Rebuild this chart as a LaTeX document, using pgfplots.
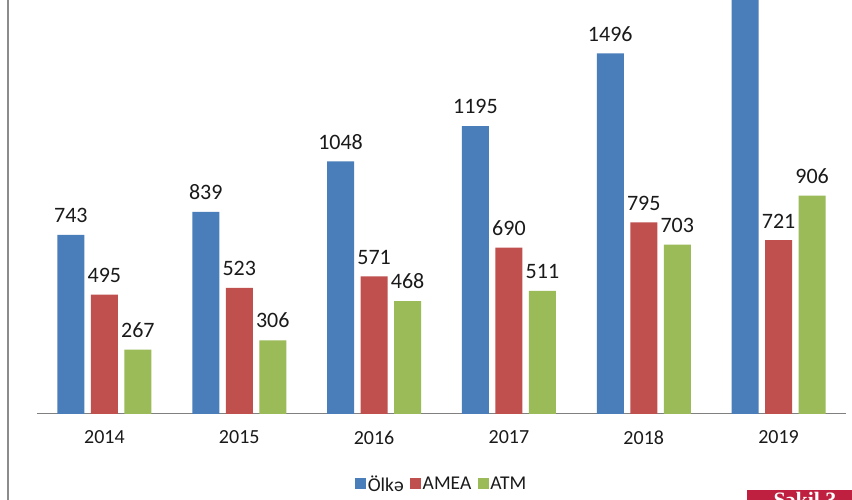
\documentclass[border=0pt]{standalone}
\usepackage{fontspec}
\setmainfont{Carlito}
\newfontfamily\serifbf{Liberation Serif}
\usepackage{pgfplots}
\pgfplotsset{compat=1.18}
\definecolor{cblue}{HTML}{4A7EBB}
\definecolor{cred}{HTML}{C0504D}
\definecolor{cgreen}{HTML}{9BBB59}
\definecolor{ctext}{HTML}{1A1A1A}
\definecolor{cbox}{HTML}{C0203F}
\begin{document}
\begin{tikzpicture}[x=1pt,y=1pt]
\clip (0,0) rectangle (852,500);
\path[use as bounding box] (0,0) rectangle (852,500);
\fill[white] (0,0) rectangle (852,500);
\draw[black!45, line width=1.2pt] (8,0) -- (8,500);
\begin{axis}[
  at={(37pt,86pt)}, anchor=south west,
  width=809pt, height=414pt, scale only axis,
  ybar=6.5pt, bar width=27pt,
  xmin=-0.5, xmax=5.5, ymin=0, ymax=1718,
  axis x line*=bottom, hide y axis,
  axis line style={black!50, line width=1pt},
  xtick={0,1,2,3,4,5},
  xticklabels={2014,2015,2016,2017,2018,2019},
  major tick length=0pt,
  x tick label style={font=\fontsize{20}{24}\selectfont, text=ctext, yshift=-13pt},
  point meta=explicit symbolic,
  nodes near coords={\pgfplotspointmeta},
  every node near coord/.append style={font=\fontsize{22}{26}\selectfont, text=ctext, inner sep=0pt, anchor=south, yshift=12pt},
  legend style={at={(0.5,-0.169)}, anchor=center, legend columns=-1, draw=none, fill=none,
    font=\fontsize{19.5}{23}\selectfont, text=ctext, inner sep=0pt,
    nodes={inner sep=1.5pt},
    /tikz/every odd column/.append style={column sep=0pt},
    /tikz/every even column/.append style={column sep=5pt}},
  legend image code/.code={\path[#1, draw=none] (0pt,-5.5pt) rectangle (11pt,5.5pt);},
]
\addplot[fill=cblue, draw=none]
  coordinates {(0,743)[743] (1,839)[839] (2,1048)[1048] (3,1195)[1195] (4,1496)[1496] (5,1800)[{}]};
\addplot[fill=cred, draw=none]
  coordinates {(0,495)[495] (1,523)[523] (2,571)[571] (3,690)[690] (4,795)[795] (5,721)[721]};
\addplot[fill=cgreen, draw=none]
  coordinates {(0,267)[267] (1,306)[306] (2,468)[468] (3,511)[511] (4,703)[703] (5,906)[906]};
\legend{Ölkə, AMEA, ATM}
\end{axis}
\fill[cbox] (747,0) rectangle (852,10);
\node[anchor=north, text=white, font=\serifbf\bfseries\fontsize{22}{26}\selectfont, inner sep=0pt] at (805,8) {Şəkil 3};
\end{tikzpicture}
\end{document}
